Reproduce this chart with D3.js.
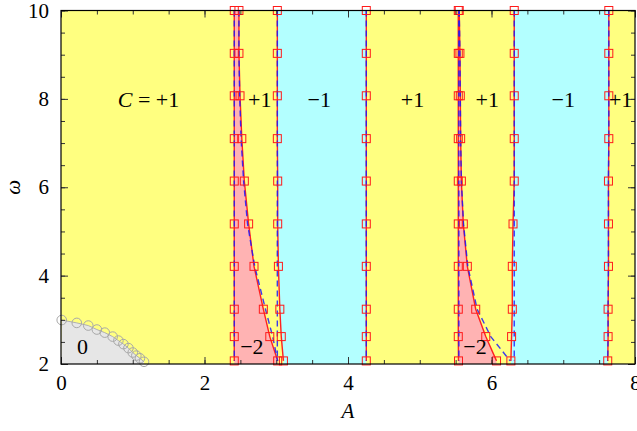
<!DOCTYPE html>
<html>
<head>
<meta charset="utf-8">
<script src="https://cdn.jsdelivr.net/npm/d3@7"></script>
<style>
  body { margin: 0; background: #fff; }
  text { font-family: "Liberation Serif", "DejaVu Serif", serif; }
</style>
</head>
<body>
<script>
// omega sample rows (shared by all boundary curves)
var omega = [10, 9.03, 8.07, 7.1, 6.14, 5.17, 4.21, 3.24, 2.62, 2.07];

// numerical boundaries (red, square markers)
var redB1 = [2.415, 2.415, 2.415, 2.415, 2.415, 2.415, 2.415, 2.415, 2.415, 2.415];
var redB2 = [2.48, 2.48, 2.495, 2.52, 2.555, 2.615, 2.69, 2.82, 2.91, 3.02];
var redB3 = [3.015, 3.015, 3.015, 3.015, 3.02, 3.02, 3.03, 3.05, 3.07, 3.10];
var redB4 = [4.255, 4.255, 4.255, 4.255, 4.255, 4.255, 4.255, 4.255, 4.255, 4.255];
var redB5 = [5.537, 5.537, 5.537, 5.537, 5.537, 5.537, 5.537, 5.537, 5.537, 5.54];
var redB6 = [5.55, 5.56, 5.565, 5.57, 5.58, 5.607, 5.663, 5.78, 5.92, 6.07];
var redB7 = [6.317, 6.317, 6.317, 6.317, 6.317, 6.3, 6.29, 6.29, 6.28, 6.27];
var redB8 = [7.635, 7.635, 7.635, 7.635, 7.63, 7.63, 7.63, 7.625, 7.625, 7.62];

// analytic boundaries (blue dashed)
var blueB1 = [2.415, 2.415, 2.415, 2.415, 2.415, 2.415, 2.415, 2.415, 2.415, 2.415];
var blueB2 = [2.48, 2.48, 2.49, 2.51, 2.545, 2.60, 2.70, 2.85, 2.95, 3.02];
var blueB3 = [3.015, 3.015, 3.015, 3.015, 3.015, 3.015, 3.015, 3.015, 3.015, 3.015];
var blueB4 = [4.255, 4.255, 4.255, 4.255, 4.255, 4.255, 4.255, 4.255, 4.255, 4.255];
var blueB5 = [5.545, 5.545, 5.545, 5.545, 5.545, 5.545, 5.545, 5.545, 5.545, 5.545];
var blueB6 = [5.55, 5.56, 5.565, 5.57, 5.58, 5.61, 5.67, 5.80, 5.99, 6.26];
var blueB7 = [6.317, 6.317, 6.317, 6.317, 6.317, 6.317, 6.317, 6.317, 6.317, 6.317];
var blueB8 = [7.635, 7.635, 7.635, 7.635, 7.63, 7.63, 7.63, 7.625, 7.625, 7.62];

// trivial-phase edge (gray circles)
var grayA = [0.01, 0.22, 0.38, 0.50, 0.61, 0.72, 0.80, 0.87, 0.94, 1.00, 1.05, 1.10, 1.157];
var grayW = [2.995, 2.93, 2.87, 2.78, 2.71, 2.62, 2.53, 2.45, 2.36, 2.26, 2.19, 2.13, 2.05];

// region labels
var labelText = ["C = +1", "+1", "\u22121", "+1", "+1", "\u22121", "+1", "0", "\u22122", "\u22122"];
var labelA = [1.22, 2.77, 3.6, 4.9, 5.94, 7.0, 7.8, 0.3, 2.66, 5.77];
var labelW = [8, 8, 8, 8, 8, 8, 8, 2.4, 2.4, 2.4];

var xTicks = [0, 2, 4, 6, 8];
var yTicks = [2, 4, 6, 8, 10];

var W = 637, H = 431;
var pL = 61, pR = 635, pT = 10.5, pB = 364;

var svg = d3.select('body').append('svg').attr('width', W).attr('height', H);

var x = d3.scaleLinear().domain([0, 8]).range([pL, pR]);
var y = d3.scaleLinear().domain([2, 10]).range([pB, pT]);

svg.append('clipPath').attr('id', 'plot')
  .append('rect').attr('x', pL).attr('y', pT)
  .attr('width', pR - pL).attr('height', pB - pT);

var fills = svg.append('g').attr('clip-path', 'url(#plot)');

fills.append('rect')
  .attr('x', x(0)).attr('y', y(10))
  .attr('width', x(8) - x(0)).attr('height', y(2) - y(10))
  .attr('fill', '#ffff80');

// extend each band to the plot floor using the last row
function band(l, r){
  var rows = omega.map(function(w, i){ return {w: w, l: l[i], r: r[i]}; });
  rows.push({w: 2, l: l[l.length - 1], r: r[r.length - 1]});
  return rows;
}
var area = d3.area()
  .y(function(d){ return y(d.w); })
  .x0(function(d){ return x(d.l); })
  .x1(function(d){ return x(d.r); });

[[redB1, redB2, '#ffb3b3'], [redB3, redB4, '#b3ffff'],
 [redB5, redB6, '#ffb3b3'], [redB7, redB8, '#b3ffff']].forEach(function(b){
  fills.append('path').attr('d', area(band(b[0], b[1]))).attr('fill', b[2]);
});

// gray trivial region
var grayPts = grayA.map(function(a, i){ return [a, grayW[i]]; });
var grayPoly = [[0, 2]].concat(grayPts).concat([[grayA[grayA.length - 1], 2]]);
var xyLine = d3.line().x(function(d){ return x(d[0]); }).y(function(d){ return y(d[1]); });
fills.append('path').attr('d', xyLine(grayPoly) + 'Z').attr('fill', '#e6e6e6');

var line = d3.line()
  .x(function(d){ return x(d.a); })
  .y(function(d){ return y(d.w); });

function pts(arr){ return omega.map(function(w, i){ return {a: arr[i], w: w}; }); }

var reds = [redB1, redB2, redB3, redB4, redB5, redB6, redB7, redB8];
var blues = [blueB1, blueB2, blueB3, blueB4, blueB5, blueB6, blueB7, blueB8];

reds.forEach(function(r){
  svg.append('path').attr('d', line(pts(r)))
    .attr('fill', 'none').attr('stroke', '#ff2020').attr('stroke-width', 1.4);
});
blues.forEach(function(b){
  svg.append('path').attr('d', line(pts(b)))
    .attr('fill', 'none').attr('stroke', '#1a1aff').attr('stroke-opacity', 0.85)
    .attr('stroke-width', 1.4).attr('stroke-dasharray', '6,4');
});
reds.forEach(function(r){
  svg.append('g').selectAll('rect').data(pts(r)).enter().append('rect')
    .attr('x', function(d){ return x(d.a) - 4; })
    .attr('y', function(d){ return y(d.w) - 4; })
    .attr('width', 8).attr('height', 8)
    .attr('fill', 'none').attr('stroke', '#ff1a1a').attr('stroke-width', 1);
});

// gray edge line + circles
svg.append('path').attr('d', xyLine(grayPts))
  .attr('fill', 'none').attr('stroke', '#b0b0b0').attr('stroke-width', 1);
svg.append('g').selectAll('circle').data(grayPts).enter().append('circle')
  .attr('cx', function(d){ return x(d[0]); })
  .attr('cy', function(d){ return y(d[1]); })
  .attr('r', 4.8)
  .attr('fill', 'none').attr('stroke', '#a8a8a8').attr('stroke-width', 1);

// labels
svg.append('g').selectAll('text').data(labelText).enter().append('text')
  .attr('x', function(d, i){ return x(labelA[i]); })
  .attr('y', function(d, i){ return y(labelW[i]); })
  .attr('dy', '0.35em')
  .attr('text-anchor', 'middle')
  .attr('font-size', 22)
  .each(function(d){
    var t = d3.select(this);
    if (d.indexOf('C') === 0) {
      t.append('tspan').attr('font-style', 'italic').text('C');
      t.append('tspan').text(' = +1');
    } else {
      t.text(d);
    }
  });

// axes with inward ticks
var xMinor = d3.range(0, 8.01, 0.5), yMinor = d3.range(2, 10.01, 0.5);
function addAxis(axis, tr){
  var g = svg.append('g').attr('transform', tr).call(axis);
  g.select('.domain').remove();
  g.selectAll('line').attr('stroke', '#333');
  return g;
}
addAxis(d3.axisBottom(x).tickValues(xMinor).tickSize(-4).tickFormat(''), 'translate(0,' + pB + ')');
addAxis(d3.axisTop(x).tickValues(xMinor).tickSize(-4).tickFormat(''), 'translate(0,' + pT + ')');
addAxis(d3.axisLeft(y).tickValues(yMinor).tickSize(-4).tickFormat(''), 'translate(' + pL + ',0)');
addAxis(d3.axisRight(y).tickValues(yMinor).tickSize(-4).tickFormat(''), 'translate(' + pR + ',0)');

var gx = addAxis(d3.axisBottom(x).tickValues(xTicks).tickSizeInner(-7).tickSizeOuter(0).tickPadding(11), 'translate(0,' + pB + ')');
addAxis(d3.axisTop(x).tickValues(xTicks).tickSize(-7).tickFormat(''), 'translate(0,' + pT + ')');
var gy = addAxis(d3.axisLeft(y).tickValues(yTicks).tickSizeInner(-7).tickSizeOuter(0).tickPadding(12), 'translate(' + pL + ',0)');
addAxis(d3.axisRight(y).tickValues(yTicks).tickSize(-7).tickFormat(''), 'translate(' + pR + ',0)');
[gx, gy].forEach(function(g){
  g.selectAll('text').attr('font-family', '"Liberation Serif", serif').attr('font-size', 21).attr('fill', '#000');
});

svg.append('rect').attr('x', pL).attr('y', pT)
  .attr('width', pR - pL).attr('height', pB - pT)
  .attr('fill', 'none').attr('stroke', '#000').attr('stroke-width', 1.2);

svg.append('text').attr('x', x(4)).attr('y', 418)
  .attr('text-anchor', 'middle').attr('font-size', 21).attr('font-style', 'italic').text('A');
svg.append('text').attr('transform', 'translate(20,' + y(6) + ') rotate(-90)')
  .attr('text-anchor', 'middle').attr('font-size', 21).attr('font-style', 'italic').text('\u03c9');
</script>
</body>
</html>
